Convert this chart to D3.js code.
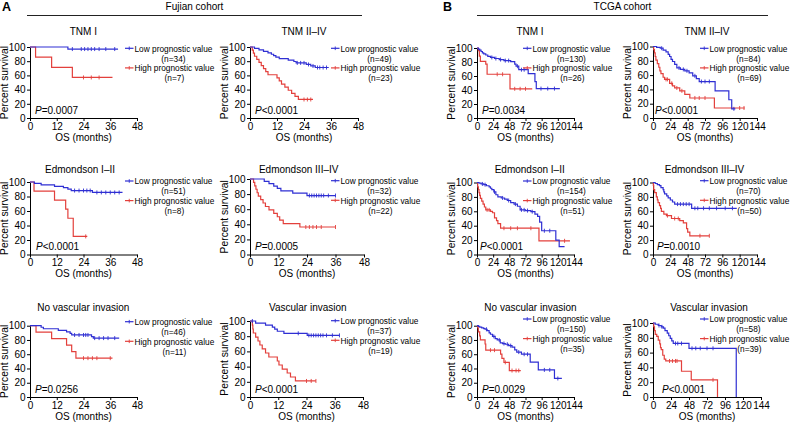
<!DOCTYPE html>
<html><head><meta charset="utf-8">
<script src="https://cdn.jsdelivr.net/npm/d3@7"></script>
<style>
body{margin:0;background:#fff;}
svg text{font-family:"Liberation Sans",Arial,Helvetica,sans-serif;fill:#000;}
</style></head>
<body><svg id="c" width="791" height="424"></svg>
<script>
// ================= DATA =================
const cohortNames = ["Fujian cohort", "TCGA cohort"];
const panelLetters = ["A", "B"];
const titles = ["TNM I","TNM II\u2013IV","TNM I","TNM II\u2013IV",
  "Edmondson I\u2013II","Edmondson III\u2013IV","Edmondson I\u2013II","Edmondson III\u2013IV",
  "No vascular invasion","Vascular invasion","No vascular invasion","Vascular invasion"];
const lowN  = [34,49,130,84,51,32,154,70,46,37,150,58];
const highN = [7,23,26,69,8,22,51,50,11,19,35,39];
const pValues = ["=0.0007","<0.0001","=0.0034","<0.0001","<0.0001","=0.0005","<0.0001","=0.0010","=0.0256","<0.0001","=0.0029","<0.0001"];
const legendLabels = ["Low prognostic value","High prognostic value"];
const fujianXTicks = [0,12,24,36,48];
const tcgaXTicks = [0,24,48,72,96,120,144];
const yTicks = [0,20,40,60,80,100];

// Kaplan-Meier steps: [month, percent survival]; censor marks: months
const fjTnm1Low = [[0,100],[17,97.1],[39.5,97.1]];
const fjTnm1LowC = [19,23,24.5,26,27.5,29,31,34,38];
const fjTnm1High = [[0,100],[2.5,85.7],[9.7,71.4],[19,57.1],[37,57.1]];
const fjTnm1HighC = [24,27.5,31];

const fjTnm24Low = [[0,100],[2,98],[4,95.9],[6,93.9],[8,91.8],[9.5,89.8],[10.5,87.8],[11.5,85.7],[13,83.7],[17,81.6],[19.5,79.6],[20.5,77.6],[25,75.4],[27,73.3],[29,71.1],[35,71.1]];
const fjTnm24LowC = [21,22.5,24,26,28,30,31,32.5,34];
const fjTnm24High = [[0,100],[1,95.7],[1.5,91.3],[2,87],[3,82.6],[4,78.3],[5,73.9],[6,69.6],[7,65.2],[8,60.9],[12,56.5],[13,52.2],[14,47.8],[15.5,43.5],[17,39.1],[18.5,34.8],[20,30.4],[21.5,26.1],[28,26.1]];
const fjTnm24HighC = [24,25.5,27];

const tcTnm1Low = [[0,100],[2,98.5],[4,97],[6,95],[8,93],[10,91.5],[13,90],[16,88],[20,86.5],[26,85],[33,83.5],[40,82],[50,80.5],[56,77],[58,74],[62,69],[76,63.5],[86,52],[88,42],[123,42]];
const tcTnm1LowC = [22,28,35,42,47,60,66,70,95,105,115];
const tcTnm1High = [[0,100],[2,96.2],[3.5,88.5],[5,80.8],[13,76.9],[15,62.5],[49,41.7],[82,41.7]];
const tcTnm1HighC = [30,38,56,64,72];

const tcTnm24Low = [[0,100],[5,98.8],[10,97.6],[14,95],[18,92.5],[21,89],[23,86],[25,82],[27,79],[30,75],[33,70],[38,68],[44,66],[50,63],[55,59],[60,55],[64,51],[86,38],[105,25.5],[109,12.8],[114,12.8]];
const tcTnm24LowC = [12,36,42,47,58,67,72,78,112];
const tcTnm24High = [[0,100],[1,95.5],[2,91],[3,86],[4,81],[6,76],[8,71],[9.5,66],[11,62],[14,57],[16,54],[23,48.5],[27,45],[30,42],[37,38],[44,33],[51,28],[85,14],[127,14]];
const tcTnm24HighC = [18,20,26,33,40,58,64,72,120,126];

const fjEd12Low = [[0,100],[2,98],[5,96.1],[11,94.1],[15,92.2],[17,90.2],[18.5,88.2],[28,85.6],[41.5,85.6]];
const fjEd12LowC = [20,22,24,25.5,27,30,32,34,36,38,40];
const fjEd12High = [[0,100],[1.8,87.5],[11,75],[16,62.5],[17,50],[19.4,25],[25.7,25]];
const fjEd12HighC = [25];

const fjEd34Low = [[0,100],[6,96.9],[8,93.8],[10,90.6],[11.5,87.5],[13,84.4],[18,81.3],[24,78.1],[36,78.1]];
const fjEd34LowC = [25,26,27,28,29,30,31,33,36];
const fjEd34High = [[0,100],[1.5,95.5],[2,90.9],[2.5,86.4],[3,81.8],[3.5,77.3],[4.5,72.7],[5.5,68.2],[6.5,63.6],[8,59.1],[10,54.5],[11.5,50],[12.5,45.5],[14,40.9],[21,36.4],[36,36.4]];
const fjEd34HighC = [23.5,25,26.5,28,30,36];

const tcEd12Low = [[0,100],[3,99],[6,98],[10,97],[14,95.5],[18,94],[20,92],[22,90],[25,87],[28,83],[31,80],[36,78.5],[41,77],[45,75],[50,72],[55,70],[60,67],[64,62],[72,61],[80,59.5],[86,56],[90,53],[93,45],[96,33],[117,20],[122,11],[130,11]];
const tcEd12LowC = [8,12,26,38,47,57,66,70,75,82,100,108];
const tcEd12High = [[0,100],[1,94],[2,90],[3,86],[4,82],[5,78],[7,74],[9,70],[11,66],[13,62],[20,60],[23,58],[26,51],[29,47],[31,43],[35,36.5],[92,19],[138,19]];
const tcEd12HighC = [15,18,40,50,60,80,130];

const tcEd34Low = [[0,100],[3,98.6],[6,97.1],[9,95.7],[11,92.9],[14,90],[15,87.1],[16,84.3],[19,81.4],[21,78.6],[24,75.7],[27,72.9],[30,70],[53.5,64.2],[116,64.2]];
const tcEd34LowC = [34,38,42,46,50,58,62,70,78,88,100,110];
const tcEd34High = [[0,100],[0.5,96],[1,90],[2.3,86],[4.6,80],[6,76],[7,72],[9,68],[10.5,64],[11.6,60],[15,56],[18.6,54],[25.6,50],[37,47],[42,44],[46.5,36],[48,31],[51,26],[78,26]];
const tcEd34HighC = [20,30,35,65,78];

const fjNoVLow = [[0,100],[5,97.8],[6,95.7],[12.7,93.5],[16.4,91.3],[18,89.1],[18.7,87],[27.6,84.8],[28.4,82.6],[40,82.6]];
const fjNoVLowC = [20,22,24,25,26,29,31,33,35,38];
const fjNoVHigh = [[0,100],[2.7,90.9],[9.7,81.8],[16.4,72.7],[18.7,63.6],[20.6,54.5],[37,54.5]];
const fjNoVHighC = [24,26,28,30,36];

const fjVLow = [[0,100],[2.4,97.3],[6.6,94.6],[9.5,91.9],[10.5,89.2],[11.6,86.5],[14.4,83.8],[24.3,81.1],[38,81.1]];
const fjVLowC = [1,20.5,25,26,27,28,29,30,31,32.5,35,38];
const fjVHigh = [[0,100],[1,94.7],[1.2,89.5],[1.4,84.2],[2.4,78.9],[3.4,73.7],[4.2,68.4],[5.2,63.2],[6.6,57.9],[8,52.6],[11.6,47.4],[12.3,42.1],[13.7,36.8],[15.8,31.6],[17.2,26.3],[19.3,21.1],[28,21.1]];
const fjVHighC = [24,26,28];

const tcNoVLow = [[0,100],[2,99],[4,98],[7,97],[10,96],[12,95],[15,93],[18,90],[20,88],[23,85],[27,82],[30,80],[34.5,76],[38,75],[42,74],[47,72],[52,70],[56,66],[59,63],[66,60],[79,49],[91,38],[115,26],[126,26]];
const tcNoVLowC = [14,25,33,40,45,50,62,70,75,100,108,120];
const tcNoVHigh = [[0,100],[1,97.1],[2,91.4],[4,85.7],[5,80],[12,74.3],[13,65.7],[35,60],[37,54.3],[40,48.6],[48,37.1],[65,37.1]];
const tcNoVHighC = [20,26,42,52,58,62];

const tcVLow = [[0,100],[3,98.3],[7,96.6],[11,94.8],[14,93.1],[16,89.7],[19,86.2],[21,82.8],[23,79.3],[25,75.9],[27,72.4],[48,65.8],[111,0]];
const tcVLowC = [8,12,30,33,38,52,57,63,72,80];
const tcVHigh = [[0,100],[1,94.9],[2,89.7],[3,84.6],[5,82],[7,76.9],[9,71.8],[10,66.7],[11,64.1],[13,56.4],[15,51.3],[17,48.7],[38,34.8],[51,23.2],[86,0]];
const tcVHighC = [22,26,30,32,80];

const lowCurves  = [fjTnm1Low,fjTnm24Low,tcTnm1Low,tcTnm24Low,fjEd12Low,fjEd34Low,tcEd12Low,tcEd34Low,fjNoVLow,fjVLow,tcNoVLow,tcVLow];
const lowCens    = [fjTnm1LowC,fjTnm24LowC,tcTnm1LowC,tcTnm24LowC,fjEd12LowC,fjEd34LowC,tcEd12LowC,tcEd34LowC,fjNoVLowC,fjVLowC,tcNoVLowC,tcVLowC];
const highCurves = [fjTnm1High,fjTnm24High,tcTnm1High,tcTnm24High,fjEd12High,fjEd34High,tcEd12High,tcEd34High,fjNoVHigh,fjVHigh,tcNoVHigh,tcVHigh];
const highCens   = [fjTnm1HighC,fjTnm24HighC,tcTnm1HighC,tcTnm24HighC,fjEd12HighC,fjEd34HighC,tcEd12HighC,tcEd34HighC,fjNoVHighC,fjVHighC,tcNoVHighC,tcVHighC];

// ================= LAYOUT =================
const colLeft = [30, 250, 477, 653];
const widths  = [107,108,97,104, 107,114,97,104, 107,113,97,108];
const tops    = [47,47,48,46.5, 182,179,182.5,182.5, 325.7,321,325.7,323];
const rowBottom = [118, 254.5, 397];
const legX = [125, 331, 523, 700];
const legY = [48.3,48.3,48.3,48.3, 181,180.7,181,180.7, 321.7,320.7,319,319];
const titleX = [83.3,304,530,707, 80,298.7,529.7,704.5, 83.3,307.8,530.5,709];
const titleY = [31.3, 169.7, 307];
const pDx = [5,5,5,2, 6,5,3,4, 5,5,5,9];
const BLUE = "#2f2fd3", RED = "#e3403c";

const svg = d3.select("#c");

// header
const headers = [{x0:27,x1:362},{x0:477,x1:768}];
headers.forEach((h,i)=>{
  svg.append("line").attr("x1",h.x0).attr("x2",h.x1).attr("y1",15.5).attr("y2",15.5)
    .attr("stroke","#222").attr("stroke-width",1);
  svg.append("text").attr("x",(h.x0+h.x1)/2).attr("y",10).attr("text-anchor","middle")
    .attr("font-size",10).text(cohortNames[i]);
});
svg.append("text").attr("x",2).attr("y",11).attr("font-size",12.5).attr("font-weight","bold").text(panelLetters[0]);
svg.append("text").attr("x",443).attr("y",11).attr("font-size",12.5).attr("font-weight","bold").text(panelLetters[1]);

function survAt(steps,t){let s=steps[0][1];for(const p of steps){if(p[0]<=t)s=p[1];}return s;}

for(let i=0;i<12;i++){
  const row=Math.floor(i/4), col=i%4;
  const L=colLeft[col], W=widths[i], T=tops[i], B=rowBottom[row];
  const isF = col<2;
  const xmax = isF?48:144;
  const x=d3.scaleLinear().domain([0,xmax]).range([L,L+W]);
  const y=d3.scaleLinear().domain([0,100]).range([B,T]);
  const g=svg.append("g");

  // axes
  const ya=g.append("g").attr("transform",`translate(${L},0)`)
    .call(d3.axisLeft(y).tickValues(yTicks).tickSize(3).tickPadding(1.5).tickSizeOuter(0));
  const xa=g.append("g").attr("transform",`translate(0,${B})`)
    .call(d3.axisBottom(x).tickValues(isF?fujianXTicks:tcgaXTicks).tickSize(3).tickPadding(1.5).tickSizeOuter(0));
  [ya,xa].forEach(a=>{a.attr("font-family",null);a.selectAll("text").attr("font-size",10);
    a.selectAll("path,line").attr("stroke","#000").attr("stroke-width",1);});

  // axis labels
  g.append("text").attr("transform",`translate(${L-22.5},${(T+B)/2}) rotate(-90)`)
    .attr("text-anchor","middle").attr("font-size",10.3).text("Percent survival");
  g.append("text").attr("x",L+W/2).attr("y",B+22.5).attr("text-anchor","middle")
    .attr("font-size",10).text("OS (months)");
  // title
  g.append("text").attr("x",titleX[i]).attr("y",titleY[row]).attr("dy","0.35em")
    .attr("text-anchor","middle").attr("font-size",10).text(titles[i]);

  // curves
  const line=d3.line().x(d=>x(d[0])).y(d=>y(d[1])).curve(d3.curveStepAfter);
  [[highCurves[i],highCens[i],RED],[lowCurves[i],lowCens[i],BLUE]].forEach(([st,ce,colr])=>{
    g.append("path").attr("d",line(st)).attr("fill","none").attr("stroke",colr).attr("stroke-width",1.2);
    g.selectAll(null).data(ce).enter().append("line")
      .attr("x1",d=>x(d)).attr("x2",d=>x(d))
      .attr("y1",d=>y(survAt(st,d))-2).attr("y2",d=>y(survAt(st,d))+2)
      .attr("stroke",colr).attr("stroke-width",0.9);
  });

  // P value
  const pt=g.append("text").attr("x",L+pDx[i]).attr("y",B-4.5).attr("font-size",10);
  pt.append("tspan").attr("font-style","italic").text("P");
  pt.append("tspan").text(pValues[i]);

  // legend
  const lx=legX[col], ly=legY[i];
  [[BLUE,legendLabels[0],lowN[i]],[RED,legendLabels[1],highN[i]]].forEach(([colr,lab,n],k)=>{
    const yy=ly+k*19.6;
    g.append("line").attr("x1",lx).attr("x2",lx+8.5).attr("y1",yy).attr("y2",yy).attr("stroke",colr).attr("stroke-width",1.2);
    g.append("line").attr("x1",lx+4.25).attr("x2",lx+4.25).attr("y1",yy-1.8).attr("y2",yy+1.8).attr("stroke",colr).attr("stroke-width",0.9);
    const t=g.append("text").attr("x",lx+9.5).attr("y",yy+0.5).attr("dy","0.35em").attr("font-size",8.3).text(lab);
    const w=t.node().getComputedTextLength();
    g.append("text").attr("x",lx+9.5+w/2).attr("y",yy+10.3).attr("dy","0.35em").attr("text-anchor","middle")
      .attr("font-size",8.3).text(`(n=${n})`);
  });
}
</script></body></html>
